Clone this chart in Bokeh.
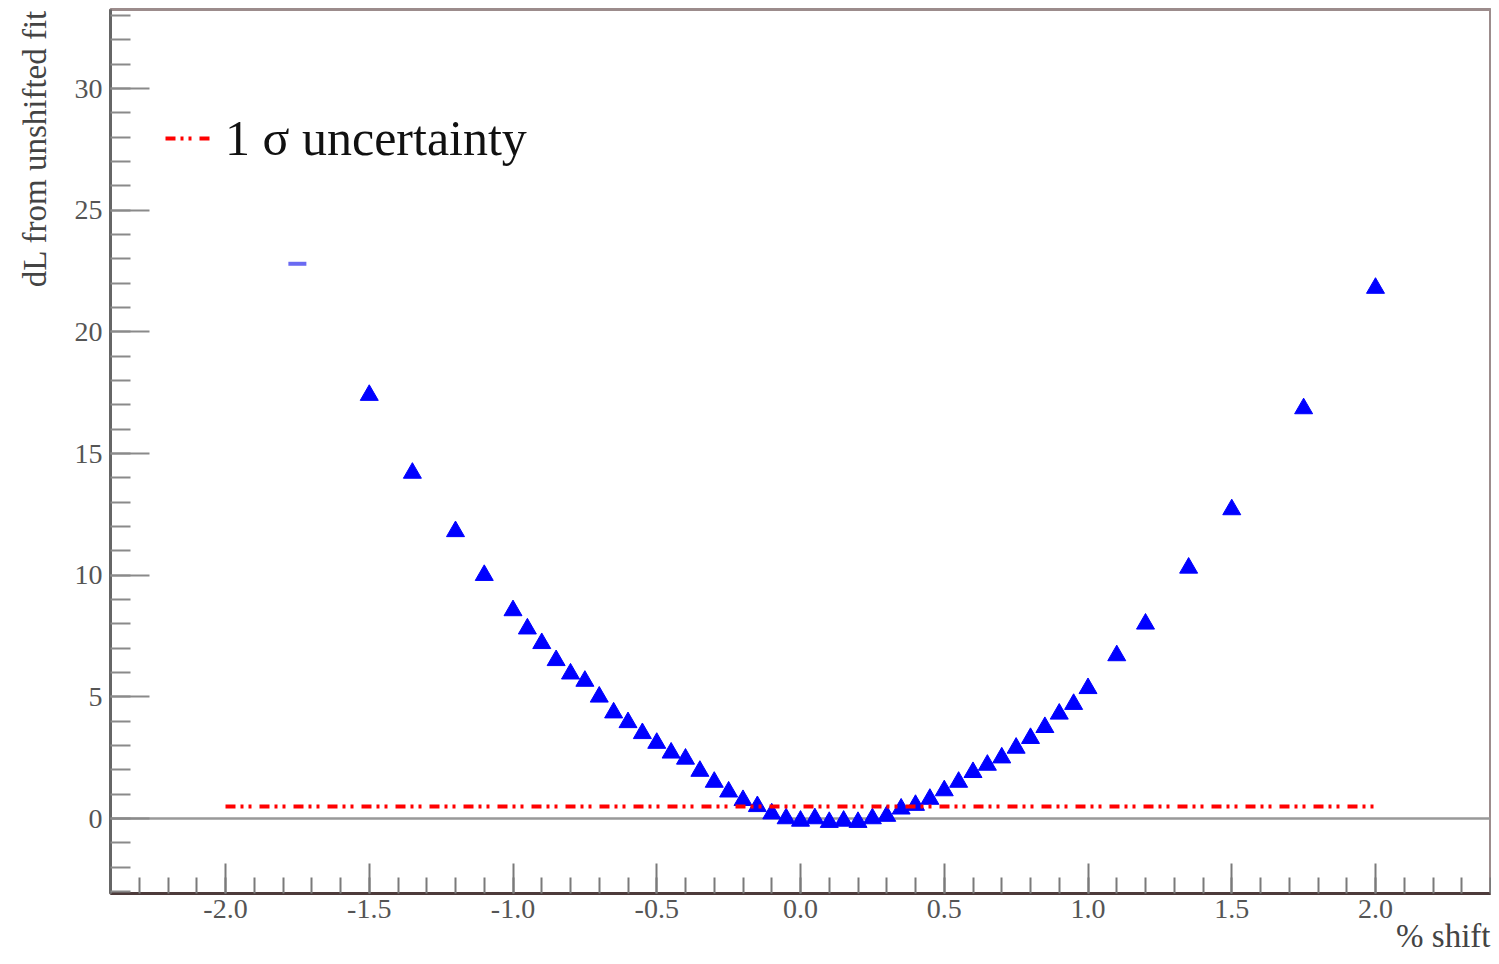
import numpy as np
from bokeh.plotting import figure
from bokeh.models import (FixedTicker, PrintfTickFormatter, Span, Legend,
                          LegendItem, Range1d, ColumnDataSource, Title)
from bokeh.embed import file_html
from bokeh.resources import INLINE

# ---- data ----
shift_pct = [-1.75, -1.5, -1.35, -1.2, -1.1, -1.0, -0.95, -0.9, -0.85, -0.8,
             -0.75, -0.7, -0.65, -0.6, -0.55, -0.5, -0.45, -0.4, -0.35, -0.3,
             -0.25, -0.2, -0.15, -0.1, -0.05, 0.0, 0.05, 0.1, 0.15, 0.2,
             0.25, 0.3, 0.35, 0.4, 0.45, 0.5, 0.55, 0.6, 0.65, 0.7,
             0.75, 0.8, 0.85, 0.9, 0.95, 1.0, 1.1, 1.2, 1.35, 1.5, 1.75, 2.0]
delta_L = [22.8, 17.4, 14.2, 11.8, 10.0, 8.55, 7.8, 7.2, 6.5, 5.95,
           5.65, 5.0, 4.35, 3.95, 3.5, 3.1, 2.7, 2.45, 1.95, 1.5,
           1.1, 0.75, 0.5, 0.2, 0.0, -0.1, 0.0, -0.15, -0.1, -0.15,
           0.0, 0.1, 0.4, 0.55, 0.8, 1.15, 1.5, 1.9, 2.2, 2.5,
           2.9, 3.3, 3.75, 4.3, 4.7, 5.35, 6.7, 8.0, 10.3, 12.7, 16.85, 21.8]
sigma_x = [-2.0, 2.0]
sigma_level = [0.5, 0.5]
x_major = [-2.0, -1.5, -1.0, -0.5, 0.0, 0.5, 1.0, 1.5, 2.0]
y_major = [0, 5, 10, 15, 20, 25, 30]
legend_label = "1 σ uncertainty"
x_title = "% shift"
y_title = "dL from unshifted fit"

FONT = "Liberation Serif"

p = figure(width=1491, height=956, output_backend="svg", toolbar_location=None,
           x_range=Range1d(-2.4, 2.4), y_range=Range1d(-3.08, 33.25),
           min_border_left=110, min_border_right=1, min_border_top=9,
           min_border_bottom=63, background_fill_color="white",
           border_fill_color="white")
p.xgrid.visible = False
p.ygrid.visible = False
p.outline_line_color = "#9c8c8c"
p.outline_line_width = 3

# x axis
x_minor = [round(v, 2) for v in np.arange(-2.4, 2.401, 0.1)]
p.xaxis.ticker = FixedTicker(ticks=x_major, minor_ticks=x_minor)
p.xaxis.formatter = PrintfTickFormatter(format="%.1f")
p.xaxis.major_tick_in = 30
p.xaxis.major_tick_out = 0
p.xaxis.minor_tick_in = 16
p.xaxis.minor_tick_out = 0
p.xaxis.major_tick_line_color = "#7a7a7a"
p.xaxis.minor_tick_line_color = "#7a7a7a"
p.xaxis.major_tick_line_width = 2
p.xaxis.minor_tick_line_width = 2
p.xaxis.axis_line_color = "#4d3b3b"
p.xaxis.axis_line_width = 3
p.xaxis.major_label_standoff = 6
p.xaxis.major_label_text_font = FONT
p.xaxis.major_label_text_font_size = "28px"
p.xaxis.major_label_text_color = "#555555"

# y axis
y_minor = list(range(-3, 34))
p.yaxis.ticker = FixedTicker(ticks=y_major, minor_ticks=y_minor)
p.yaxis.formatter = PrintfTickFormatter(format="%d")
p.yaxis.major_tick_in = 39
p.yaxis.major_tick_out = 0
p.yaxis.minor_tick_in = 20
p.yaxis.minor_tick_out = 0
p.yaxis.major_tick_line_color = "#8a8a8a"
p.yaxis.minor_tick_line_color = "#8a8a8a"
p.yaxis.major_tick_line_width = 2
p.yaxis.minor_tick_line_width = 2
p.yaxis.axis_line_color = "#666666"
p.yaxis.axis_line_width = 3
p.yaxis.major_label_standoff = 8
p.yaxis.major_label_text_font = FONT
p.yaxis.major_label_text_font_size = "28px"
p.yaxis.major_label_text_color = "#555555"

# axis titles, ROOT style (right / top aligned)
p.add_layout(Title(text=x_title, align="right", vertical_align="top",
                   standoff=-6, offset=0, text_font=FONT,
                   text_font_style="normal", text_font_size="33px",
                   text_color="#444444"), "below")
p.add_layout(Title(text=y_title, align="right", vertical_align="top",
                   standoff=33, offset=0, text_font=FONT,
                   text_font_style="normal", text_font_size="33px",
                   text_color="#444444"), "left")

# zero line
p.add_layout(Span(location=0, dimension="width", line_color="#999999",
                  line_width=2.5, level="underlay"))

# data points
src_first = ColumnDataSource(dict(x=shift_pct[:1], y=delta_L[:1]))
src_rest = ColumnDataSource(dict(x=shift_pct[1:], y=delta_L[1:]))
p.scatter("x", "y", source=src_first, marker="dash", size=18,
          line_color="#6a6af2", line_width=4)
p.scatter("x", "y", source=src_rest, marker="triangle", size=18,
          fill_color="#0000ff", line_color="#0000ff", line_width=1)

# 1 sigma line
sig = p.line(sigma_x, sigma_level, line_color="#ff0000", line_width=4,
             line_dash="10 5 3 5 3 8")

legend = Legend(items=[LegendItem(label=legend_label, renderers=[sig])],
                location=(55, 726), glyph_width=47, glyph_height=30,
                label_standoff=13, padding=0, margin=0, spacing=0,
                border_line_color=None, background_fill_alpha=0,
                label_text_font=FONT, label_text_font_size="50px",
                label_text_color="#111111", label_text_baseline="middle")
p.add_layout(legend)

open("out.html", "w").write(file_html(p, INLINE))
